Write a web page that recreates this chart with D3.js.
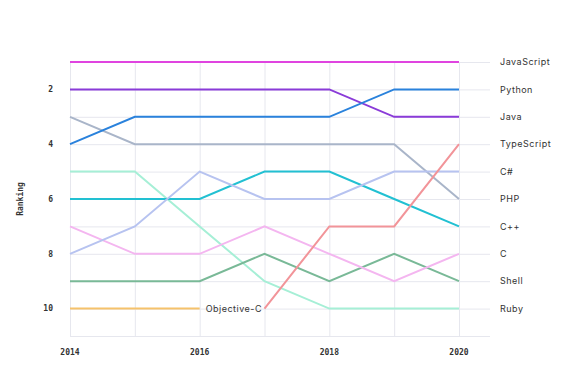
<!DOCTYPE html>
<html>
<head>
<meta charset="utf-8">
<script src="https://cdn.jsdelivr.net/npm/d3@7"></script>
<style>
  body { margin: 0; background: #fff; }
  svg { display: block; }
</style>
</head>
<body>
<svg width="580" height="378"></svg>
<script>
// years along the x axis
const years = [2014, 2015, 2016, 2017, 2018, 2019, 2020];

// ranking per language, one value per year (null = not ranked)
const javascript = [1, 1, 1, 1, 1, 1, 1];
const python     = [4, 3, 3, 3, 3, 2, 2];
const java       = [2, 2, 2, 2, 2, 3, 3];
const typescript = [null, null, null, 10, 7, 7, 4];
const csharp     = [8, 7, 5, 6, 6, 5, 5];
const php        = [3, 4, 4, 4, 4, 4, 6];
const cpp        = [6, 6, 6, 5, 5, 6, 7];
const clang      = [7, 8, 8, 7, 8, 9, 8];
const shell      = [9, 9, 9, 8, 9, 8, 9];
const ruby       = [5, 5, 7, 9, 10, 10, 10];
const objc       = [10, 10, 10, null, null, null, null];

const yTicks = [2, 4, 6, 8, 10];
const xTicks = [2014, 2016, 2018, 2020];

const languages = [
  {name: "Objective-C", values: objc, color: "#f5c26b"},
  {name: "Ruby", values: ruby, color: "#a6efd6"},
  {name: "Shell", values: shell, color: "#79b997"},
  {name: "C", values: clang, color: "#f4b6f0"},
  {name: "C++", values: cpp, color: "#22c0d2"},
  {name: "PHP", values: php, color: "#a9b5c9"},
  {name: "C#", values: csharp, color: "#b7c3f0"},
  {name: "TypeScript", values: typescript, color: "#f29499"},
  {name: "Java", values: java, color: "#8a3bd8"},
  {name: "Python", values: python, color: "#2a82dc"},
  {name: "JavaScript", values: javascript, color: "#e044e0"}
];

const svg = d3.select("svg");
const margin = {top: 62, left: 70, right: 90, bottom: 42};

const x = d3.scaleLinear()
  .domain([2014, 2020])
  .range([margin.left, 459]);

const y = d3.scaleLinear()
  .domain([1, 11])
  .range([margin.top, 336]);

const gridRight = 490;

// grid
const grid = svg.append("g").attr("stroke", "#e6e7ee").attr("stroke-width", 1);
grid.selectAll("line.h")
  .data(d3.range(1, 12))
  .join("line")
  .attr("class", "h")
  .attr("x1", x(2014)).attr("x2", gridRight)
  .attr("y1", d => y(d) + 0.5).attr("y2", d => y(d) + 0.5);
grid.selectAll("line.v")
  .data(years)
  .join("line")
  .attr("class", "v")
  .attr("x1", d => x(d) + 0.5).attr("x2", d => x(d) + 0.5)
  .attr("y1", y(1)).attr("y2", y(11));

// y tick labels
svg.append("g")
  .selectAll("text")
  .data(yTicks)
  .join("text")
  .attr("x", 53)
  .attr("y", d => y(d))
  .attr("dy", "0.35em")
  .attr("text-anchor", "end")
  .attr("font-family", "DejaVu Sans Mono, monospace")
  .attr("font-size", 8)
  .attr("font-weight", "bold")
  .attr("fill", "#333")
  .text(d => d);

// x tick labels
svg.append("g")
  .selectAll("text")
  .data(xTicks)
  .join("text")
  .attr("x", d => x(d))
  .attr("y", 355)
  .attr("text-anchor", "middle")
  .attr("font-family", "DejaVu Sans Mono, monospace")
  .attr("font-size", 8)
  .attr("font-weight", "bold")
  .attr("fill", "#333")
  .text(d => d);

// axis title
svg.append("text")
  .attr("transform", "translate(23,199) rotate(-90)")
  .attr("text-anchor", "middle")
  .attr("font-family", "DejaVu Sans Mono, monospace")
  .attr("font-size", 8)
  .attr("font-weight", "bold")
  .attr("fill", "#333")
  .text("Ranking");

// lines
const line = d3.line()
  .defined(d => d.rank != null)
  .x(d => x(d.year))
  .y(d => y(d.rank));

svg.append("g")
  .attr("fill", "none")
  .attr("stroke-width", 2)
  .selectAll("path")
  .data(languages)
  .join("path")
  .attr("stroke", d => d.color)
  .attr("d", d => line(years.map((yr, i) => ({year: yr, rank: d.values[i]}))));

// labels at the last ranked point
const labelFont = "Inter, 'Noto Sans', sans-serif";
svg.append("g")
  .selectAll("text")
  .data(languages)
  .join("text")
  .each(function(d) {
    let last = d.values.length - 1;
    while (d.values[last] == null) last--;
    const el = d3.select(this);
    if (last === years.length - 1) {
      el.attr("x", 500);
    } else {
      el.attr("x", x(years[last]) + 6);
    }
    el.attr("y", y(d.values[last]));
  })
  .attr("dy", "0.35em")
  .attr("font-family", labelFont)
  .attr("font-size", 9)
  .attr("letter-spacing", "0.5px")
  .attr("fill", "#333")
  .text(d => d.name);
</script>
</body>
</html>
